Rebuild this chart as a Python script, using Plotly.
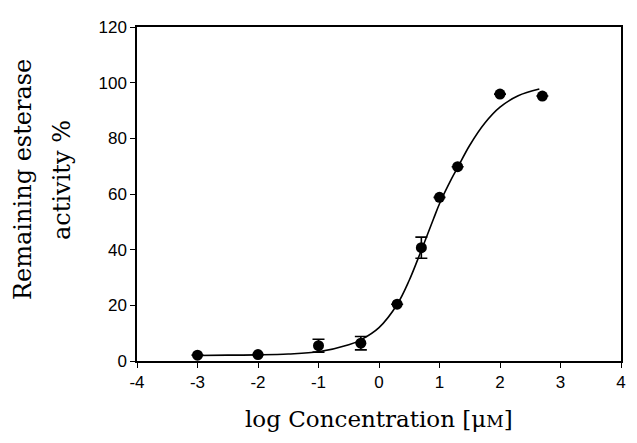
import plotly.graph_objects as go

# measured points
log_conc = [-3, -2, -1, -0.3, 0.3, 0.7, 1.0, 1.3, 2.0, 2.7]
activity = [2.1, 2.3, 5.5, 6.4, 20.4, 40.7, 58.8, 69.8, 95.9, 95.2]
err = [0, 0, 2.3, 2.4, 0, 3.8, 0, 0, 0, 0]

# fitted curve
curve_x = [-3, -2.5, -2, -1.5, -1, -0.5, -0.3, 0, 0.3, 0.5, 0.7, 0.9, 1.0, 1.2, 1.3, 1.5, 1.75, 2.0, 2.3, 2.65]
curve_y = [2.0, 2.1, 2.2, 2.5, 3.3, 5.8, 7.6, 12.0, 20.3, 29.0, 39.8, 51.0, 56.5, 65.5, 69.5, 77.5, 85.5, 91.2, 95.3, 97.7]

x_ticks = [-4, -3, -2, -1, 0, 1, 2, 3, 4]
y_ticks = [0, 20, 40, 60, 80, 100, 120]

fig = go.Figure()
fig.add_trace(go.Scatter(x=curve_x, y=curve_y, mode="lines",
                         line=dict(color="black", width=1.6, shape="spline"),
                         hoverinfo="skip", showlegend=False))
fig.add_trace(go.Scatter(x=log_conc, y=activity, mode="markers",
                         marker=dict(color="black", size=11),
                         error_y=dict(type="data", array=err, color="black",
                                      thickness=1.6, width=6),
                         showlegend=False))

sans = "Arial"
serif = "DejaVu Serif"

fig.update_layout(
    width=637, height=443,
    margin=dict(l=137, r=16, t=27, b=82),
    plot_bgcolor="white", paper_bgcolor="white",
    xaxis=dict(range=[-4, 4], tickvals=x_ticks, ticktext=[str(v) for v in x_ticks],
               showgrid=False, zeroline=False, showline=True, linecolor="black",
               linewidth=1.5, mirror=True, ticks="outside", ticklen=5,
               tickcolor="black", tickwidth=1.3,
               tickfont=dict(family=sans, size=17, color="black")),
    yaxis=dict(range=[0, 120], tickvals=y_ticks, showgrid=False, zeroline=False,
               showline=True, linecolor="black", linewidth=1.5, mirror=True,
               ticks="outside", ticklen=5, tickcolor="black", tickwidth=1.3,
               tickfont=dict(family=sans, size=17, color="black")),
    font=dict(family=serif, color="black"),
)

fig.add_annotation(text="log Concentration [μ<span style='font-size:17px'>M</span>]",
                   xref="paper", yref="paper", x=0.5, y=-0.13, yanchor="top",
                   showarrow=False, font=dict(family=serif, size=23, color="black"))
fig.add_annotation(text="Remaining esterase", xref="paper", yref="paper",
                   x=0, y=0.542, textangle=-90, showarrow=False,
                   xshift=-114, xanchor="center", yanchor="middle",
                   font=dict(family=serif, size=24, color="black"))
fig.add_annotation(text="activity %", xref="paper", yref="paper",
                   x=0, y=0.542, textangle=-90, showarrow=False,
                   xshift=-75, xanchor="center", yanchor="middle",
                   font=dict(family=serif, size=24, color="black"))

fig.write_html("out.html")
